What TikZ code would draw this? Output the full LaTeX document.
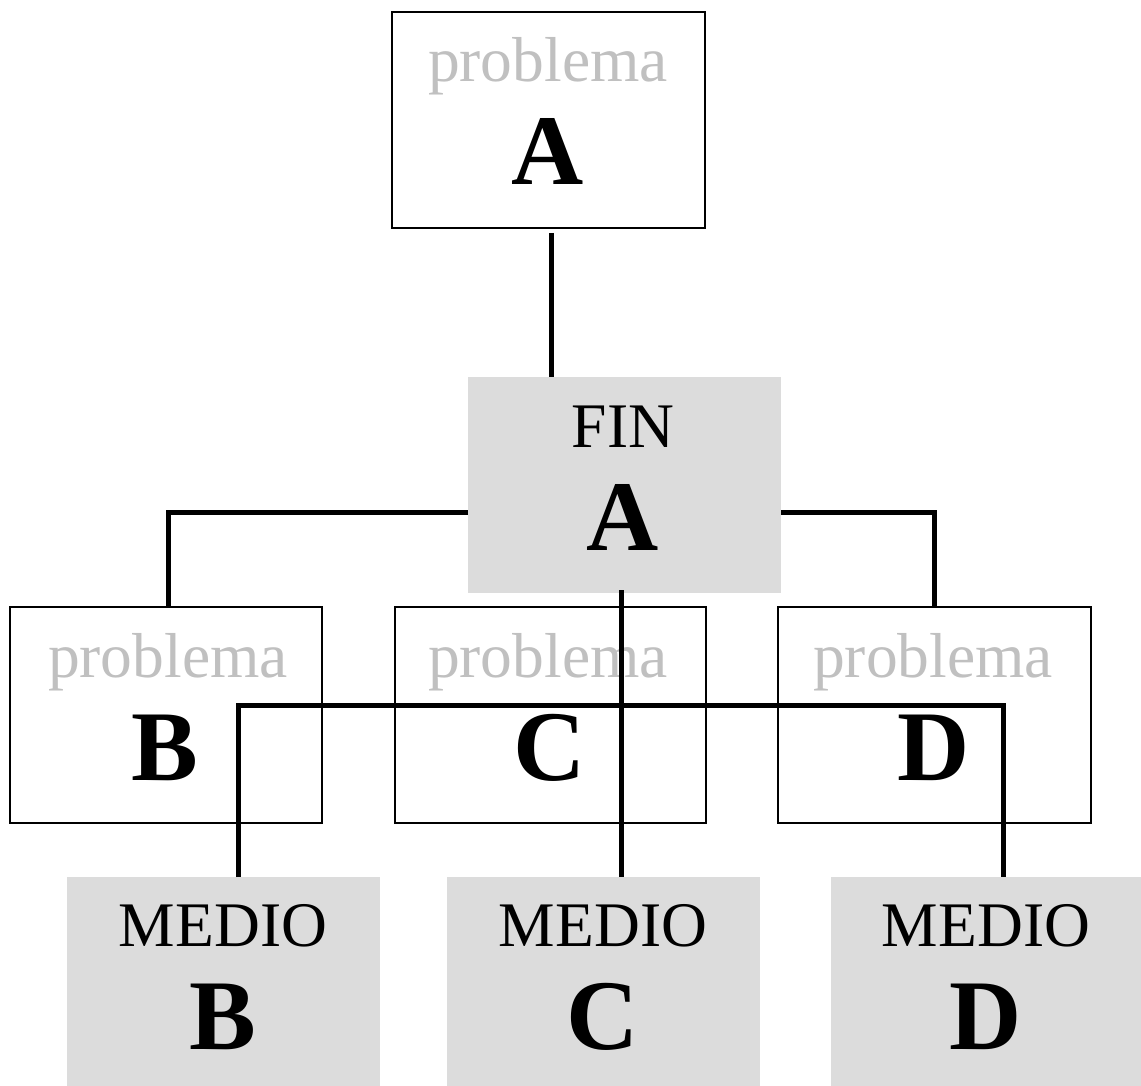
\documentclass[tikz,border=0pt]{standalone}
\usepackage{fontspec}
\setmainfont{Liberation Serif}
\definecolor{boxgray}{HTML}{DCDCDC}
\definecolor{txtgray}{HTML}{C0C0C0}
\begin{document}
\begin{tikzpicture}[x=1pt,y=-1pt,
 probbox/.style={draw=black, line width=1.2pt, fill=white, minimum width=312pt, minimum height=216pt, inner sep=0pt, outer sep=0pt},
 graybox/.style={fill=boxgray, draw=none, minimum width=313pt, minimum height=216pt, inner sep=0pt, outer sep=0pt},
 smalltxt/.style={anchor=base, inner sep=0pt, font=\fontsize{63.5}{70}\selectfont},
 probtxt/.style={smalltxt, text=txtgray},
 bigtxt/.style={anchor=base, inner sep=0pt, font=\fontsize{100}{110}\selectfont\bfseries},
 conn/.style={line width=5pt, line join=miter}]
\useasboundingbox (0,0) rectangle (1141,1086);
% boxes
\node[probbox, minimum width=313pt] (pA) at (548.5,120) {};
\node[graybox] (fin) at (624.5,485) {};
\node[probbox] (pB) at (166,715) {};
\node[probbox, minimum width=311pt] (pC) at (550.5,715) {};
\node[probbox, minimum width=313pt] (pD) at (934.5,715) {};
\node[graybox, minimum height=210pt] (mB) at (223.5,982) {};
\node[graybox, minimum height=210pt] (mC) at (603.5,982) {};
\node[graybox, minimum height=210pt, minimum width=310pt] (mD) at (986,982) {};
% texts
\node[probtxt] (tpA) at (548,82) {problema};
\node[bigtxt] (lA) at (548,185) {A};
\node[smalltxt] (tfin) at (623,447) {FIN};
\node[bigtxt] (lfin) at (623,550) {A};
\node[probtxt] (tpB) at (168,677) {problema};
\node[bigtxt] (lB) at (165,780) {B};
\node[probtxt] (tpC) at (548,677) {problema};
\node[bigtxt] (lC) at (550,780) {C};
\node[probtxt] (tpD) at (933,677) {problema};
\node[bigtxt] (lD) at (934,780) {D};
\node[smalltxt] (tmB) at (223,946) {MEDIO};
\node[bigtxt] (lmB) at (223,1049) {B};
\node[smalltxt] (tmC) at (603,946) {MEDIO};
\node[bigtxt] (lmC) at (603,1049) {C};
\node[smalltxt] (tmD) at (986,946) {MEDIO};
\node[bigtxt] (lmD) at (986,1049) {D};
% connectors
\coordinate (j0) at (551.5,233);
\draw[conn] (j0) -- (j0 |- fin.north);
\coordinate (fl) at (468,512);
\coordinate (fr) at (781,512);
\draw[conn] (fl) -| ([xshift=2pt]pB.north);
\draw[conn] (fr) -| (pD.north);
\coordinate (c0) at (621,590);
\draw[conn] (c0) -- (c0 |- mC.north);
\coordinate (bl) at (238,705);
\coordinate (br) at (1003,705);
\draw[conn] (bl |- mB.north) -- (bl) -- (br) -- (br |- mD.north);
\end{tikzpicture}
\end{document}
